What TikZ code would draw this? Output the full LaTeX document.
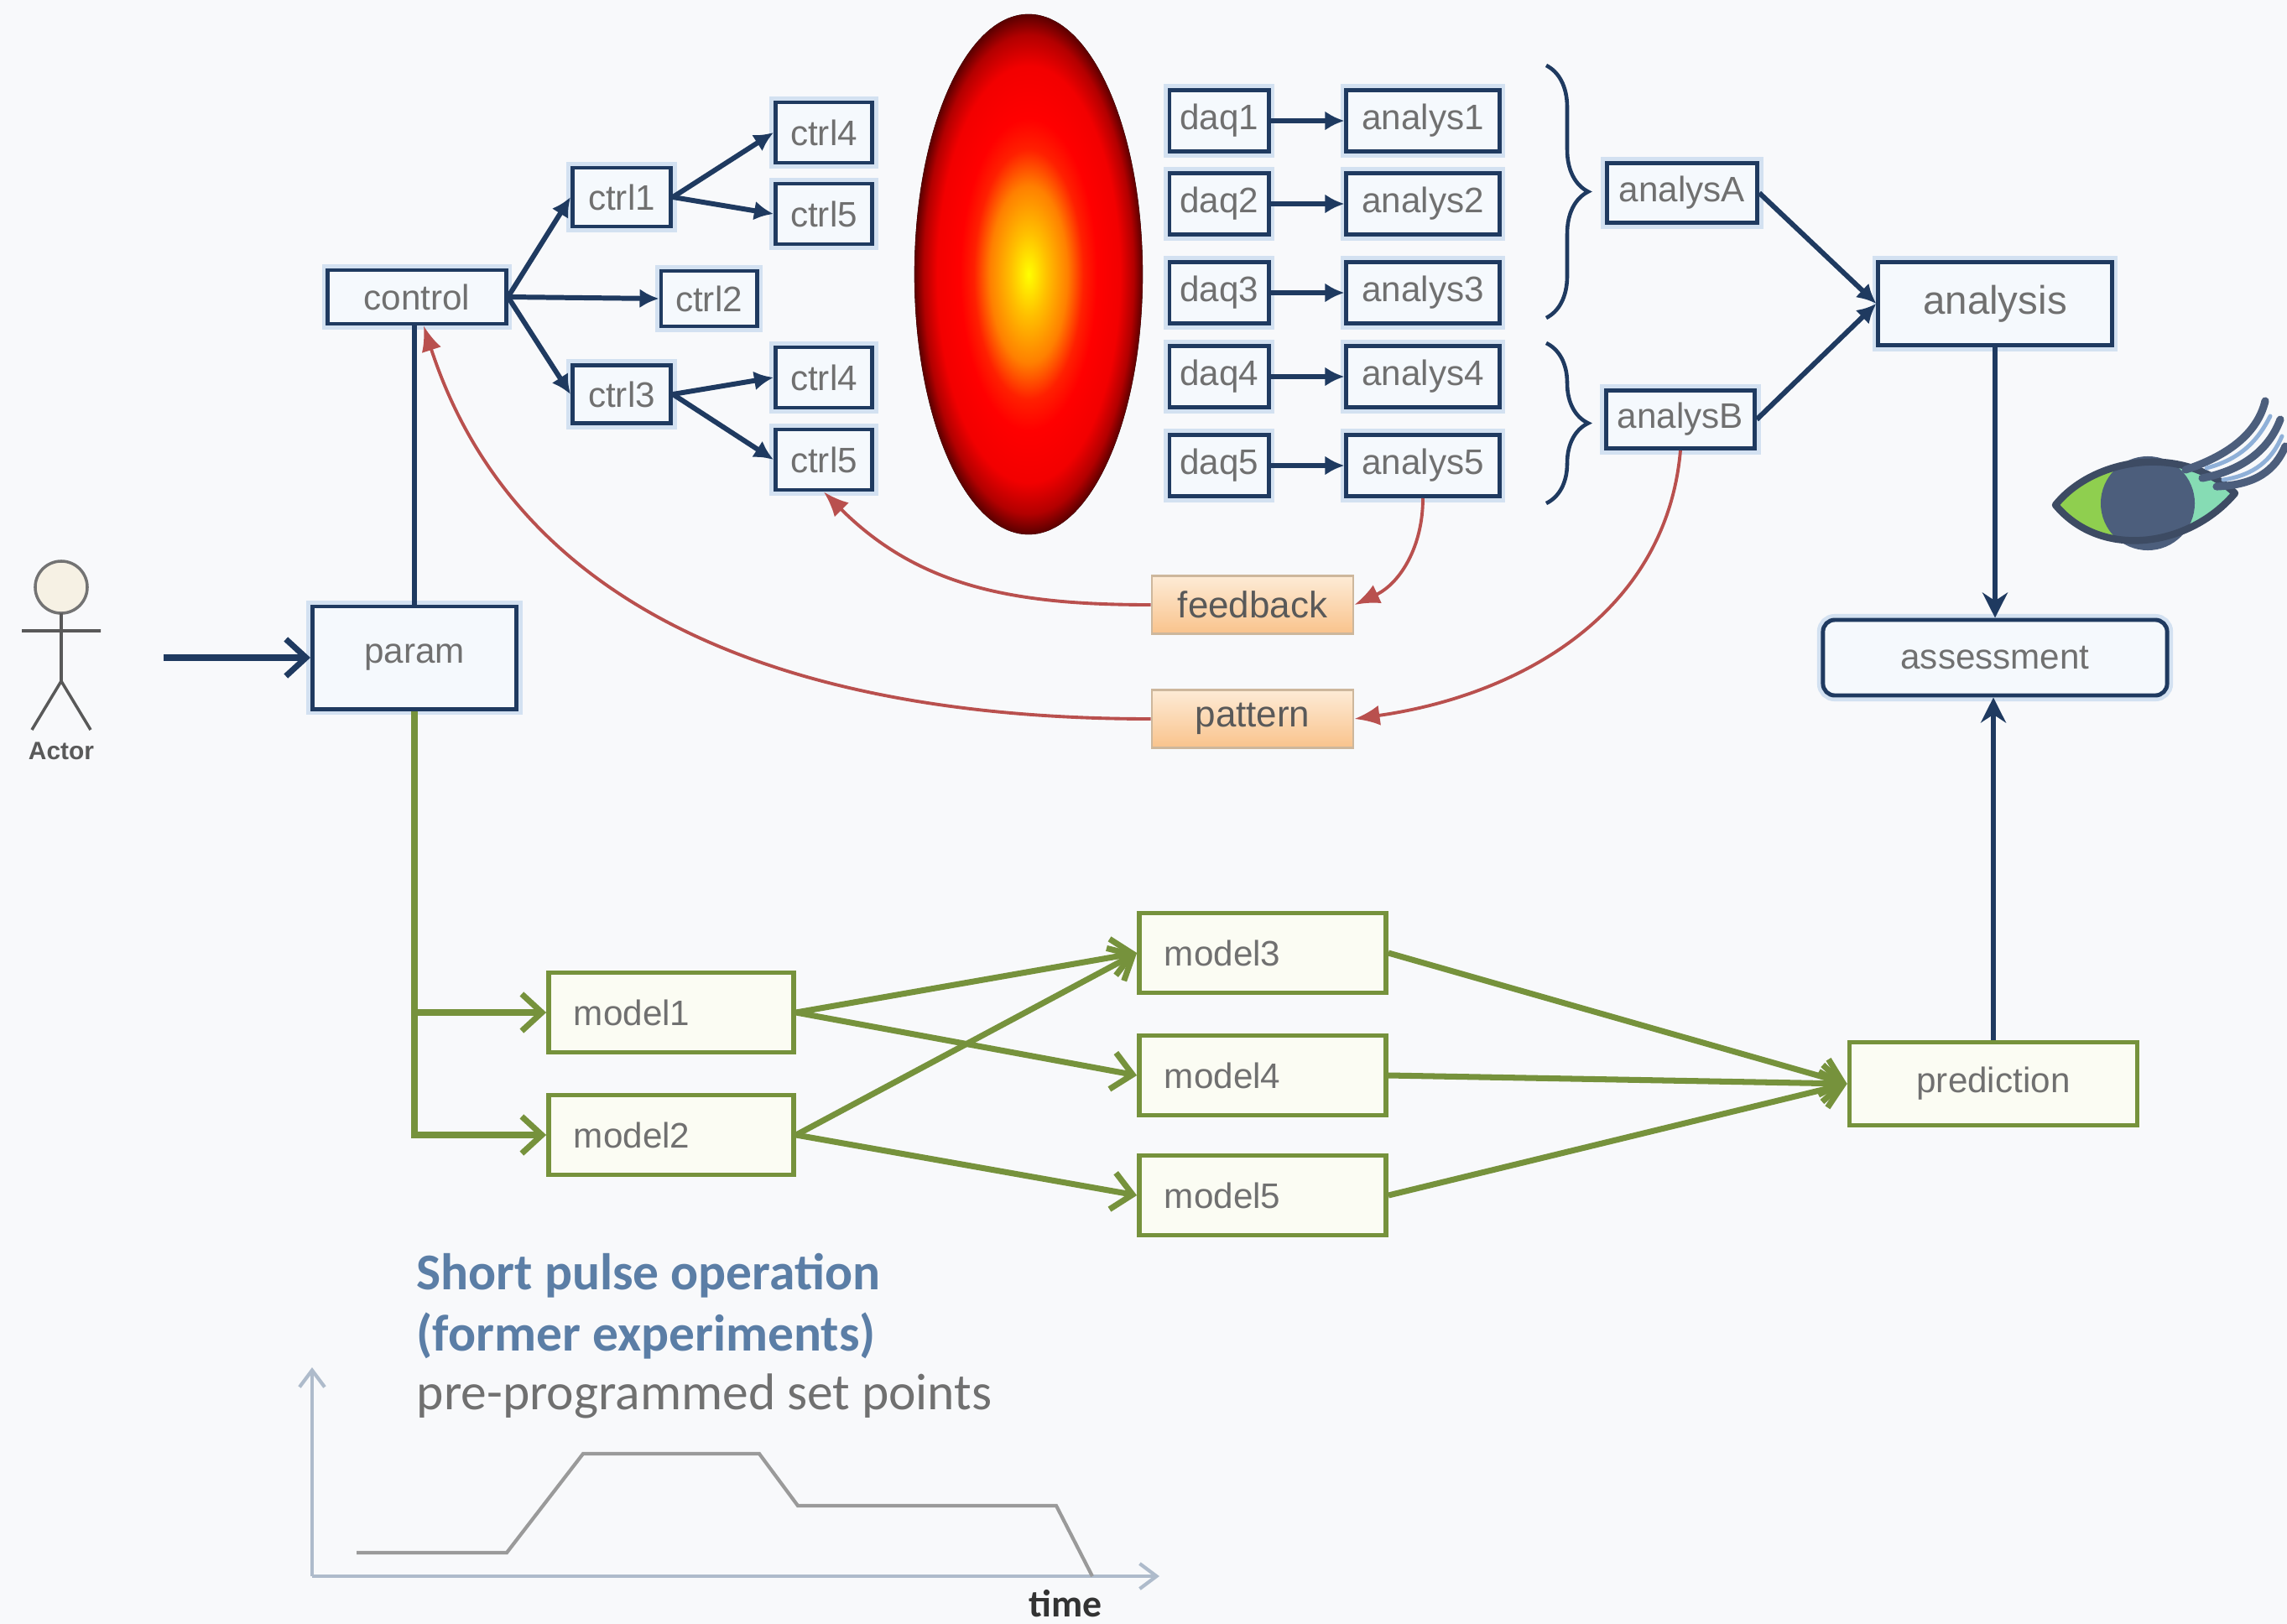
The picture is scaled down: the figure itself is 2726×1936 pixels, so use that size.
\documentclass[tikz,border=0pt]{standalone}
\usepackage{fontspec}
\setmainfont{Liberation Sans}
\newfontfamily\notefont{Carlito}
\usetikzlibrary{arrows.meta,decorations.pathreplacing}
\definecolor{navy}{HTML}{1F3A60}
\definecolor{boxfill}{HTML}{F5F9FD}
\definecolor{glow}{HTML}{D3E1F1}
\definecolor{txtgray}{HTML}{707070}
\definecolor{olive}{HTML}{76923C}
\definecolor{olivefill}{HTML}{FBFCF3}
\definecolor{rust}{HTML}{B9504E}
\definecolor{peachtop}{HTML}{FDEBD6}
\definecolor{peachbot}{HTML}{F9C38C}
\definecolor{peachline}{HTML}{CDB79C}
\definecolor{slate}{HTML}{5B7EA6}
\definecolor{axisgray}{HTML}{AEBBCB}
\definecolor{curvegray}{HTML}{9A9A9A}
\definecolor{paper}{HTML}{F8F9FB}
\definecolor{lime}{HTML}{8FCF4F}
\definecolor{mint}{HTML}{86DCB4}
\definecolor{iris}{HTML}{4C5E7C}
\definecolor{lash}{HTML}{8FB0D8}
\definecolor{headcream}{HTML}{F6F1E4}
\pgfdeclareradialshading{plasma}{\pgfpoint{0bp}{0bp}}{%
  color(0bp)=(yellow); color(4bp)=(yellow!50!orange); color(8.5bp)=(orange);
  color(12bp)=(red!75!orange); color(15bp)=(red); color(20bp)=(red!95!black);
  color(23bp)=(red!70!black); color(25bp)=(red!35!black); color(50bp)=(red!35!black)}
\tikzset{
  ctlbox/.style={draw=navy,fill=boxfill,line width=1.4pt,inner sep=0pt,text=txtgray,
    font=\fontsize{12}{14}\selectfont,preaction={draw=glow,line width=4pt}},
  modelbox/.style={draw=olive,fill=olivefill,line width=1.6pt,inner sep=0pt,text=txtgray,
    font=\fontsize{12}{14}\selectfont,minimum height=0.95cm},
  notebox/.style={draw=peachline,top color=peachtop,bottom color=peachbot,line width=0.8pt,
    minimum width=2.4cm,minimum height=0.69cm,inner sep=0pt,text=black!65,
    font=\fontsize{12.5}{14}\selectfont},
  navyarr/.style={-{Latex[length=2.3mm,width=2.3mm]},draw=navy,line width=1.7pt},
  bigarr/.style={-{Stealth[length=3mm,width=3mm]},draw=navy,line width=1.6pt},
  greenarr/.style={-{Straight Barb[length=2.4mm,width=4.4mm]},draw=olive,line width=2pt},
  rustarr/.style={-{Latex[length=3mm,width=2.4mm]},draw=rust,line width=1.1pt},
  bracket/.style={decorate,decoration={brace,amplitude=0.5cm},draw=navy,line width=1.3pt}
}
\begin{document}
\begin{tikzpicture}[x=0.01cm,y=-0.01cm]
  \useasboundingbox (0,0) rectangle (2726,1936);
  \fill[paper] (0,0) rectangle (2726,1936);

  % plasma
  \fill[shading=plasma] (1226,327) ellipse (1.36cm and 3.10cm);

  % control tree
  \node[ctlbox,minimum width=2.12cm,minimum height=0.64cm] (control) at (497,354) {control};
  \node[ctlbox,minimum width=1.17cm,minimum height=0.70cm] (ctrl1) at (741,235) {ctrl1};
  \node[ctlbox,minimum width=1.14cm,minimum height=0.66cm] (ctrl2) at (845,356) {ctrl2};
  \node[ctlbox,minimum width=1.17cm,minimum height=0.69cm] (ctrl3) at (741,470) {ctrl3};
  \node[ctlbox,minimum width=1.15cm,minimum height=0.72cm] (ctrl4a) at (982,158) {ctrl4};
  \node[ctlbox,minimum width=1.15cm,minimum height=0.72cm] (ctrl5a) at (982,255) {ctrl5};
  \node[ctlbox,minimum width=1.15cm,minimum height=0.72cm] (ctrl4b) at (982,450) {ctrl4};
  \node[ctlbox,minimum width=1.15cm,minimum height=0.72cm] (ctrl5b) at (982,548) {ctrl5};
  \draw[navyarr] (control.east) -- (ctrl1.west);
  \draw[navyarr] (control.east) -- (ctrl2.west);
  \draw[navyarr] (control.east) -- (ctrl3.west);
  \draw[navyarr] (ctrl1.east) -- (ctrl4a.west);
  \draw[navyarr] (ctrl1.east) -- (ctrl5a.west);
  \draw[navyarr] (ctrl3.east) -- (ctrl4b.west);
  \draw[navyarr] (ctrl3.east) -- (ctrl5b.west);

  % acquisition and analysis
  \node[ctlbox,minimum width=1.18cm,minimum height=0.73cm] (daq1) at (1453,144) {daq1};
  \node[ctlbox,minimum width=1.18cm,minimum height=0.73cm] (daq2) at (1453,243) {daq2};
  \node[ctlbox,minimum width=1.18cm,minimum height=0.73cm] (daq3) at (1453,349) {daq3};
  \node[ctlbox,minimum width=1.18cm,minimum height=0.73cm] (daq4) at (1453,449) {daq4};
  \node[ctlbox,minimum width=1.18cm,minimum height=0.73cm] (daq5) at (1453,555) {daq5};
  \node[ctlbox,minimum width=1.82cm,minimum height=0.73cm] (analys1) at (1696,144) {analys1};
  \node[ctlbox,minimum width=1.82cm,minimum height=0.73cm] (analys2) at (1696,243) {analys2};
  \node[ctlbox,minimum width=1.82cm,minimum height=0.73cm] (analys3) at (1696,349) {analys3};
  \node[ctlbox,minimum width=1.82cm,minimum height=0.73cm] (analys4) at (1696,449) {analys4};
  \node[ctlbox,minimum width=1.82cm,minimum height=0.73cm] (analys5) at (1696,555) {analys5};
  \draw[navyarr] (daq1) -- (analys1);
  \draw[navyarr] (daq2) -- (analys2);
  \draw[navyarr] (daq3) -- (analys3);
  \draw[navyarr] (daq4) -- (analys4);
  \draw[navyarr] (daq5) -- (analys5);
  \draw[bracket] (1843,78) -- (1843,379);
  \draw[bracket] (1843,409) -- (1843,600);
  \node[ctlbox,minimum width=1.79cm,minimum height=0.71cm] (analysA) at (2005,230) {analysA};
  \node[ctlbox,minimum width=1.77cm,minimum height=0.69cm] (analysB) at (2003,500) {analysB};
  \node[ctlbox,minimum width=2.78cm,minimum height=0.99cm,font=\fontsize{13.5}{15}\selectfont] (analysis) at (2378,362) {analysis};
  \draw[navyarr] (analysA.east) -- (analysis.west);
  \draw[navyarr] (analysB.east) -- (analysis.west);
  \node[ctlbox,rounded corners=4pt,minimum width=4.10cm,minimum height=0.90cm] (assessment) at (2378,784) {assessment};
  \draw[bigarr] (analysis.south) -- (assessment.north);

  % feedback loops
  \node[notebox] (feedback) at (1493,721) {feedback};
  \node[notebox] (pattern) at (1493,857) {pattern};
  \draw[rustarr] (analys5.south) to[out=-90,in=25] (feedback.east);
  \draw[rustarr] (feedback.west) to[out=180,in=-45] (ctrl5b.south);
  \draw[rustarr] (analysB.south) to[out=-95,in=8] (pattern.east);

  % actor and parameters
  \draw[black!55,fill=headcream,line width=1pt] (73,700) circle (0.31cm);
  \draw[black!65,line width=1pt] (73,731) -- (73,812) (26,752) -- (120,752)
    (38,870) -- (73,812) -- (108,870);
  \node[font=\bfseries\fontsize{8.5}{10}\selectfont,text=black!65] (actor) at (73,895) {Actor};
  \coordinate (userin) at (195,784);
  \node[ctlbox,minimum width=2.43cm,minimum height=1.22cm] (param) at (494,784) {param};
  \draw[-{Straight Barb[length=2.4mm,width=4.4mm]},navy,line width=2pt] (userin) -- (param.west);
  \draw[navy,line width=1.6pt] (param.north) -- (param.north |- control.south);
  \draw[rustarr] (pattern.west) to[out=180,in=-72] ([xshift=0.08cm]control.south);

  % models
  \node[modelbox,text width=2.32cm,inner xsep=0.3cm,align=left] (model1) at (800,1207) {model1};
  \node[modelbox,text width=2.32cm,inner xsep=0.3cm,align=left] (model2) at (800,1353) {model2};
  \node[modelbox,text width=2.34cm,inner xsep=0.3cm,align=left] (model3) at (1505,1136) {model3};
  \node[modelbox,text width=2.34cm,inner xsep=0.3cm,align=left] (model4) at (1505,1282) {model4};
  \node[modelbox,text width=2.34cm,inner xsep=0.3cm,align=left] (model5) at (1505,1425) {model5};
  \node[modelbox,minimum width=3.43cm,minimum height=0.99cm] (prediction) at (2376,1292) {prediction};
  \draw[greenarr] (param.south) |- (model1.west);
  \draw[greenarr] (param.south) |- (model2.west);
  \draw[greenarr] (model1.east) -- (model3.west);
  \draw[greenarr] (model1.east) -- (model4.west);
  \draw[greenarr] (model2.east) -- (model3.west);
  \draw[greenarr] (model2.east) -- (model5.west);
  \draw[greenarr] (model3.east) -- (prediction.west);
  \draw[greenarr] (model4.east) -- (prediction.west);
  \draw[greenarr] (model5.east) -- (prediction.west);
  \draw[bigarr] (prediction.north) -- (prediction.north |- assessment.south);

  % eye
  \begin{scope}
    \clip (2450,602) .. controls (2495,546) and (2600,528) .. (2664,588)
      .. controls (2610,652) and (2505,668) .. cycle;
    \fill[lime] (2440,520) rectangle (2560,680);
    \fill[mint] (2560,520) rectangle (2680,680);
  \end{scope}
  \fill[iris] (2560,600) circle (0.56cm);
  \draw[iris!80!black,line width=2.4pt,line join=round] (2450,602) .. controls (2495,546) and (2600,528) .. (2664,588)
    .. controls (2610,652) and (2505,668) .. cycle;
  \draw[iris,line width=2.6pt,line cap=round] (2605,560) .. controls (2650,545) and (2690,520) .. (2700,478);
  \draw[iris,line width=2.6pt,line cap=round] (2625,570) .. controls (2675,560) and (2705,535) .. (2718,500);
  \draw[iris,line width=2.6pt,line cap=round] (2642,580) .. controls (2690,578) and (2712,560) .. (2724,532);
  \draw[lash,line width=1.4pt,line cap=round] (2630,558) .. controls (2668,548) and (2690,528) .. (2706,496);
  \draw[lash,line width=1.4pt,line cap=round] (2650,572) .. controls (2688,566) and (2708,548) .. (2720,520);

  % set point trace
  \node[anchor=base west,inner sep=0pt,text=slate,font=\notefont\bfseries\fontsize{17.5}{21}\selectfont] (mode) at (496,1537) {Short pulse operation};
  \node[anchor=base west,inner sep=0pt,text=slate,font=\notefont\bfseries\fontsize{17.5}{21}\selectfont] (former) at (496,1610) {(former experiments)};
  \node[anchor=base west,inner sep=0pt,text=txtgray,font=\notefont\fontsize{17.5}{21}\selectfont] (setpts) at (496,1680) {pre-programmed set points};
  \coordinate (org) at (372,1879);
  \draw[axisgray,line width=1.2pt,-{Straight Barb[length=2mm,width=3mm]}] (org) -- (372,1630);
  \draw[axisgray,line width=1.2pt,-{Straight Barb[length=2mm,width=3mm]}] (org) -- (1382,1879);
  \draw[curvegray,line width=1.2pt] (425,1851) -- (604,1851) -- (695,1733) -- (905,1733)
    -- (951,1795) -- (1259,1795) -- (1302,1879);
  \node[text=black!80,font=\notefont\bfseries\fontsize{13}{14}\selectfont] (timelbl) at (1270,1912) {time};
\end{tikzpicture}
\end{document}
